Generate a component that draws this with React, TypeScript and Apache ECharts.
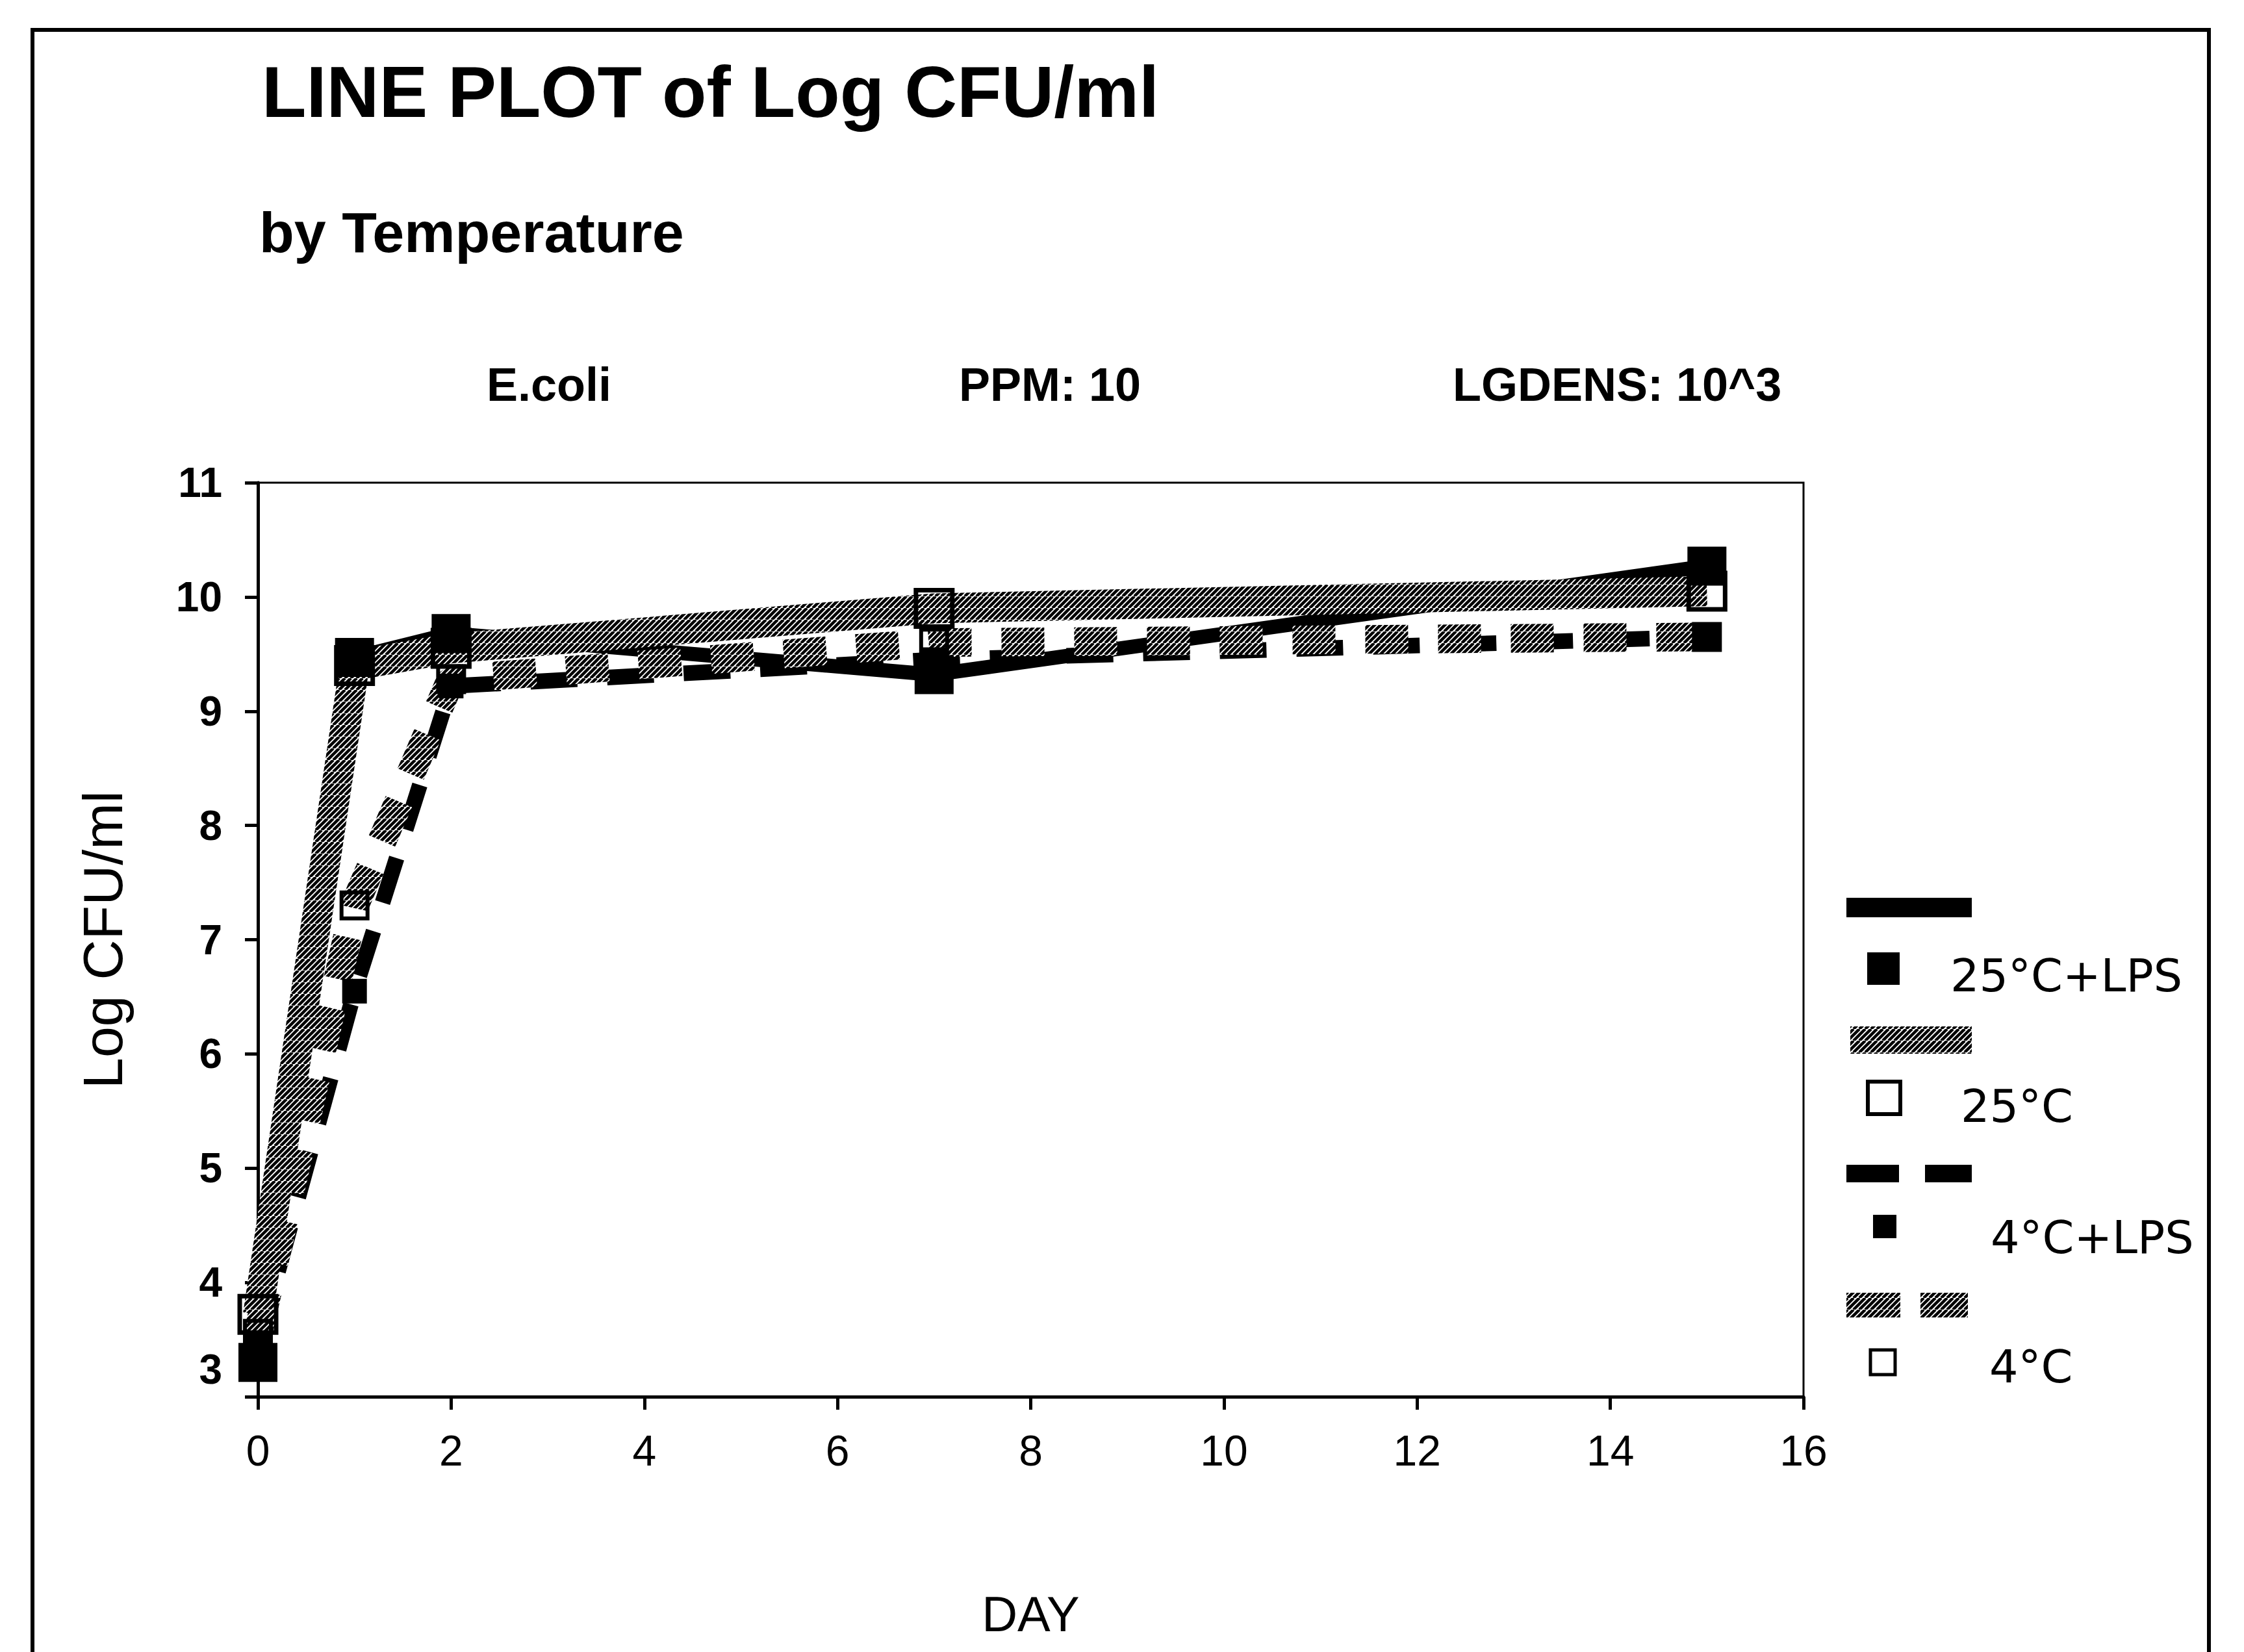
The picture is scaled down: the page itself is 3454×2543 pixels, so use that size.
import React, { useEffect, useRef } from 'react';
import * as echarts from 'echarts';

// ---- Data ----
const xMin = 0;
const xMax = 16;
const xInterval = 2;
const yMin = 3;
const yMax = 11;
const yInterval = 1;

const seriesNames = ['25°C+LPS', '25°C', '4°C+LPS', '4°C'];

const days25LPS = [0, 1, 2, 7, 15];
const vals25LPS = [3.3, 9.47, 9.68, 9.32, 10.27];

const days25 = [0, 1, 2, 7, 15];
const vals25 = [3.72, 9.4, 9.55, 9.9, 10.05];

const days4LPS = [0, 1, 2, 7, 15];
const vals4LPS = [3.45, 6.55, 9.22, 9.45, 9.65];

const days4 = [0, 1, 2, 7, 15];
const vals4 = [3.55, 7.3, 9.28, 9.6, 9.65];

const titleText = 'LINE PLOT of Log CFU/ml';
const subtitleText = 'by Temperature';
const headerTexts = ['E.coli', 'PPM: 10', 'LGDENS: 10^3'];
const xName = 'DAY';
const yName = 'Log CFU/ml';

const zip = (d: number[], v: number[]) => d.map((x, i) => [x, v[i]]);

function makeHatch(): HTMLCanvasElement {
  const S = 18;
  const c = document.createElement('canvas');
  c.width = S;
  c.height = S;
  const ctx = c.getContext('2d')!;
  ctx.fillStyle = '#ffffff';
  ctx.fillRect(0, 0, S, S);
  ctx.strokeStyle = '#000000';
  ctx.lineWidth = 4.5;
  for (let k = -S; k <= 2 * S; k += 9) {
    ctx.beginPath();
    ctx.moveTo(k, S);
    ctx.lineTo(k + S, 0);
    ctx.stroke();
  }
  return c;
}

const FONT = '"Liberation Sans", Arial, sans-serif';
const LEG_FONT = '"DejaVu Sans", "Liberation Sans", sans-serif';

export default function App() {
  const ref = useRef<HTMLDivElement>(null);

  useEffect(() => {
    if (!ref.current) return;
    const chart = echarts.init(ref.current, undefined, { renderer: 'svg' });
    const hatchCanvas = makeHatch();
    const hatch: any = {
      image: hatchCanvas,
      repeat: 'repeat',
      imageWidth: 18,
      imageHeight: 18,
    };

    const txt = (text: string, x: number, y: number, font: string, align = 'left') => ({
      type: 'text',
      x,
      y,
      silent: true,
      style: {
        text,
        font,
        fill: '#000',
        align,
        verticalAlign: 'middle',
        textAlign: align,
        textVerticalAlign: 'middle',
      },
    });

    const rect = (x: number, y: number, w: number, h: number, style: any) => ({
      type: 'rect',
      silent: true,
      shape: { x, y, width: w, height: h },
      style,
    });

    const lx0 = 2842;
    const lx1 = 3035;
    const graphics: any[] = [
      rect(50, 46, 3350, 2600, { fill: 'none', stroke: '#000', lineWidth: 6 }),
      txt(titleText, 403, 141, `bold 112px ${FONT}`),
      txt(subtitleText, 399, 357, `bold 88px ${FONT}`),
      txt(headerTexts[0], 749, 592, `bold 72px ${FONT}`),
      txt(headerTexts[1], 1476, 592, `bold 72px ${FONT}`),
      txt(headerTexts[2], 2236, 592, `bold 72px ${FONT}`),
      // legend row 1: solid black
      rect(lx0, 1382, lx1 - lx0, 30, { fill: '#000' }),
      rect(2874, 1466, 50, 50, { fill: '#000' }),
      txt(seriesNames[0], 3002, 1502, `70px ${LEG_FONT}`),
      // row 2: hatched
      rect(2848, 1580, lx1 - 2848, 42, { fill: hatch }),
      rect(2875, 1665, 50, 50, { fill: '#fff', stroke: '#000', lineWidth: 6 }),
      txt(seriesNames[1], 3018, 1703, `70px ${LEG_FONT}`),
      // row 3: dashed black
      rect(2842, 1793, 81, 27, { fill: '#000' }),
      rect(2963, 1793, 72, 27, { fill: '#000' }),
      rect(2883, 1870, 36, 36, { fill: '#000' }),
      txt(seriesNames[2], 3064, 1905, `70px ${LEG_FONT}`),
      // row 4: hatched dashed
      rect(2842, 1990, 83, 38, { fill: hatch }),
      rect(2956, 1990, 73, 38, { fill: hatch }),
      rect(2879, 2078, 38, 38, { fill: '#fff', stroke: '#000', lineWidth: 5 }),
      txt(seriesNames[3], 3062, 2104, `70px ${LEG_FONT}`),
    ];

    const lineBase = {
      type: 'line',
      showSymbol: false,
      symbol: 'none',
      silent: true,
      emphasis: { disabled: true },
      z: 2,
    };
    const scatterBase = {
      type: 'scatter',
      symbol: 'rect',
      silent: true,
      emphasis: { disabled: true },
      z: 4,
    };

    const option: any = {
      animation: false,
      backgroundColor: '#ffffff',
      grid: {
        left: 397,
        top: 743,
        width: 2379,
        height: 1407,
        show: true,
        borderColor: '#000',
        borderWidth: 3,
        backgroundColor: 'transparent',
      },
      xAxis: {
        type: 'value',
        min: xMin,
        max: xMax,
        interval: xInterval,
        name: xName,
        nameLocation: 'middle',
        nameGap: 296,
        nameTextStyle: { fontSize: 76, fontFamily: FONT, color: '#000' },
        axisLine: { show: true, lineStyle: { color: '#000', width: 5 } },
        axisTick: { show: true, inside: false, length: 20, lineStyle: { color: '#000', width: 5 } },
        axisLabel: { margin: 50, fontSize: 66, fontFamily: FONT, color: '#000' },
        splitLine: { show: false },
      },
      yAxis: {
        type: 'value',
        min: yMin,
        max: yMax,
        interval: yInterval,
        name: yName,
        nameLocation: 'middle',
        nameRotate: 90,
        nameGap: 196,
        nameTextStyle: { fontSize: 86, fontFamily: FONT, color: '#000' },
        axisLine: { show: true, lineStyle: { color: '#000', width: 5 } },
        axisTick: { show: true, inside: false, length: 20, lineStyle: { color: '#000', width: 5 } },
        axisLabel: {
          margin: 55,
          fontSize: 64,
          fontWeight: 'bold',
          fontFamily: FONT,
          color: '#000',
          formatter: (v: number) => (v === yMin ? `{low|${v}}` : String(v)),
          rich: {
            low: {
              fontSize: 64,
              fontWeight: 'bold',
              fontFamily: FONT,
              color: '#000',
              padding: [0, 0, 84, 0],
            },
          },
        },
        splitLine: { show: false },
      },
      graphic: graphics,
      series: [
        {
          ...lineBase,
          name: seriesNames[2] + ' line',
          data: zip(days4LPS, vals4LPS),
          itemStyle: { color: '#000' },
          lineStyle: { color: '#000', width: 24, type: [72, 46] },
        },
        {
          ...lineBase,
          name: seriesNames[0] + ' line',
          data: zip(days25LPS, vals25LPS),
          itemStyle: { color: '#000' },
          lineStyle: { color: '#000', width: 22, type: 'solid' },
        },
        {
          ...lineBase,
          name: seriesNames[1] + ' line',
          data: zip(days25, vals25),
          itemStyle: { color: '#000' },
          lineStyle: { color: hatch, width: 46, type: 'solid' },
        },
        {
          ...lineBase,
          name: seriesNames[3] + ' line',
          data: zip(days4, vals4),
          itemStyle: { color: '#000' },
          lineStyle: { color: hatch, width: 44, type: [66, 46] },
        },
        {
          ...scatterBase,
          name: seriesNames[3],
          data: zip(days4, vals4),
          symbolSize: 40,
          itemStyle: { color: 'rgba(0,0,0,0)', borderColor: '#000', borderWidth: 6, opacity: 1 },
        },
        {
          ...scatterBase,
          name: seriesNames[1],
          data: zip(days25, vals25),
          symbolSize: 56,
          itemStyle: { color: 'rgba(0,0,0,0)', borderColor: '#000', borderWidth: 7, opacity: 1 },
        },
        {
          ...scatterBase,
          name: seriesNames[2],
          data: zip(days4LPS, vals4LPS),
          symbolSize: 38,
          itemStyle: { color: '#000', opacity: 1 },
        },
        {
          ...scatterBase,
          name: seriesNames[0],
          data: zip(days25LPS, vals25LPS),
          symbolSize: 60,
          itemStyle: { color: '#000', opacity: 1 },
        },
      ],
    };

    chart.setOption(option);
    return () => {
      chart.dispose();
    };
  }, []);

  return (
    <div
      ref={ref}
      style={{
        position: 'fixed',
        left: 0,
        top: 0,
        width: 3454,
        height: 2543,
        background: '#fff',
      }}
    />
  );
}
